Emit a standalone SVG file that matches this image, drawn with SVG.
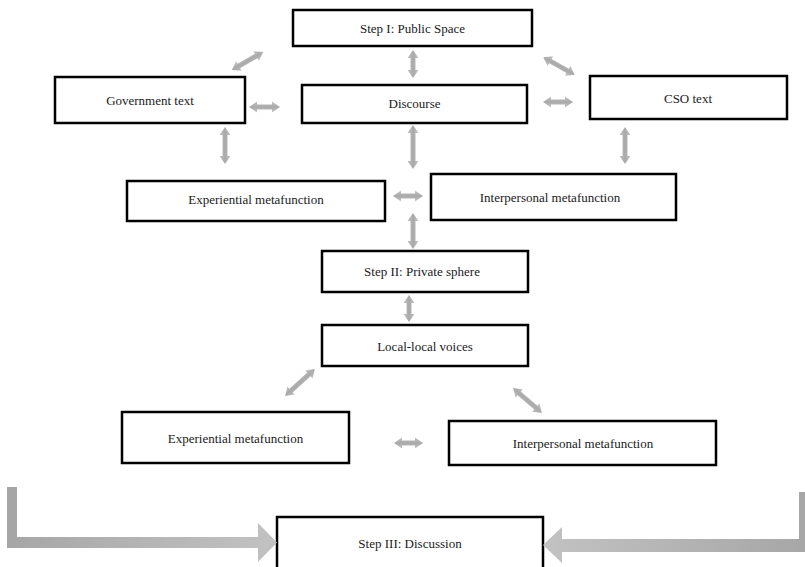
<svg xmlns="http://www.w3.org/2000/svg" width="805" height="567" viewBox="0 0 805 567">
  <style>
    .box { fill: #ffffff; stroke: #000000; stroke-width: 2.5; }
    .lbl { font-family: "Liberation Serif", "Times New Roman", serif; font-size: 13px; fill: #1a1a1a; text-anchor: middle; }
    .dbl { fill: url(#arrowGrad); }
    .flow { stroke: none; }
  </style>
  <defs>
    <linearGradient id="arrowGrad" x1="0" y1="0" x2="0" y2="1">
      <stop offset="0" stop-color="#c4c4c4"/>
      <stop offset="0.5" stop-color="#a9a9a9"/>
      <stop offset="1" stop-color="#c4c4c4"/>
    </linearGradient>
    <linearGradient id="flowLeft" x1="0" y1="0" x2="1" y2="0">
      <stop offset="0" stop-color="#a6a6a6"/>
      <stop offset="1" stop-color="#c2c2c2"/>
    </linearGradient>
    <linearGradient id="flowRight" x1="1" y1="0" x2="0" y2="0">
      <stop offset="0" stop-color="#a6a6a6"/>
      <stop offset="1" stop-color="#c2c2c2"/>
    </linearGradient>
  </defs>

  <!-- nodes -->
  <g id="step1"><rect class="box" x="293" y="10" width="239" height="36"/><text class="lbl" x="412.5" y="33">Step I: Public Space</text></g>
  <g id="gov"><rect class="box" x="55" y="77" width="190" height="46"/><text class="lbl" x="150" y="105">Government text</text></g>
  <g id="discourse"><rect class="box" x="302" y="85" width="225" height="38"/><text class="lbl" x="414.5" y="108">Discourse</text></g>
  <g id="cso"><rect class="box" x="590" y="76" width="197" height="43"/><text class="lbl" x="688" y="103">CSO text</text></g>
  <g id="exp1"><rect class="box" x="127" y="181" width="258" height="40"/><text class="lbl" x="256" y="204">Experiential metafunction</text></g>
  <g id="int1"><rect class="box" x="431" y="174" width="245" height="46"/><text class="lbl" x="550" y="202">Interpersonal metafunction</text></g>
  <g id="step2"><rect class="box" x="322" y="251" width="206" height="41"/><text class="lbl" x="422" y="276">Step II: Private sphere</text></g>
  <g id="local"><rect class="box" x="322" y="325" width="206" height="41"/><text class="lbl" x="425" y="351">Local-local voices</text></g>
  <g id="exp2"><rect class="box" x="122" y="412" width="227" height="51"/><text class="lbl" x="235.5" y="443">Experiential metafunction</text></g>
  <g id="int2"><rect class="box" x="449" y="421" width="267" height="44"/><text class="lbl" x="583" y="448">Interpersonal metafunction</text></g>
  <g id="step3"><rect class="box" x="277" y="517" width="266" height="60"/><text class="lbl" x="410" y="548">Step III: Discussion</text></g>

  <!-- connectors: double-headed block arrows drawn along x, centred on the origin -->
  <g id="connectors">
    <polygon class="dbl" transform="translate(413,64) rotate(90)" points="-14,0 -6,-5.5 -6,-2.5 6,-2.5 6,-5.5 14,0 6,5.5 6,2.5 -6,2.5 -6,5.5"/>
    <polygon class="dbl" transform="translate(247.5,61) rotate(-30)" points="-18,0 -10,-5.5 -10,-2.5 10,-2.5 10,-5.5 18,0 10,5.5 10,2.5 -10,2.5 -10,5.5"/>
    <polygon class="dbl" transform="translate(559,66) rotate(29.4)" points="-18,0 -10,-5.5 -10,-2.5 10,-2.5 10,-5.5 18,0 10,5.5 10,2.5 -10,2.5 -10,5.5"/>
    <polygon class="dbl" transform="translate(264.5,107)" points="-15.5,0 -7.5,-5.5 -7.5,-2.5 7.5,-2.5 7.5,-5.5 15.5,0 7.5,5.5 7.5,2.5 -7.5,2.5 -7.5,5.5"/>
    <polygon class="dbl" transform="translate(558,102)" points="-15,0 -7,-5.5 -7,-2.5 7,-2.5 7,-5.5 15,0 7,5.5 7,2.5 -7,2.5 -7,5.5"/>
    <polygon class="dbl" transform="translate(225,145.5) rotate(90)" points="-18.5,0 -10.5,-5.5 -10.5,-2.5 10.5,-2.5 10.5,-5.5 18.5,0 10.5,5.5 10.5,2.5 -10.5,2.5 -10.5,5.5"/>
    <polygon class="dbl" transform="translate(413,147) rotate(90)" points="-22,0 -14,-5.5 -14,-2.5 14,-2.5 14,-5.5 22,0 14,5.5 14,2.5 -14,2.5 -14,5.5"/>
    <polygon class="dbl" transform="translate(625,145.5) rotate(90)" points="-18.5,0 -10.5,-5.5 -10.5,-2.5 10.5,-2.5 10.5,-5.5 18.5,0 10.5,5.5 10.5,2.5 -10.5,2.5 -10.5,5.5"/>
    <polygon class="dbl" transform="translate(408,196)" points="-15,0 -7,-5.5 -7,-2.5 7,-2.5 7,-5.5 15,0 7,5.5 7,2.5 -7,2.5 -7,5.5"/>
    <polygon class="dbl" transform="translate(413,231) rotate(90)" points="-18,0 -10,-5.5 -10,-2.5 10,-2.5 10,-5.5 18,0 10,5.5 10,2.5 -10,2.5 -10,5.5"/>
    <polygon class="dbl" transform="translate(409,308.5) rotate(90)" points="-13.5,0 -5.5,-5.5 -5.5,-2.5 5.5,-2.5 5.5,-5.5 13.5,0 5.5,5.5 5.5,2.5 -5.5,2.5 -5.5,5.5"/>
    <polygon class="dbl" transform="translate(300,382.5) rotate(-42)" points="-20,0 -12,-5.5 -12,-2.5 12,-2.5 12,-5.5 20,0 12,5.5 12,2.5 -12,2.5 -12,5.5"/>
    <polygon class="dbl" transform="translate(527.5,400.5) rotate(40.8)" points="-19,0 -11,-5.5 -11,-2.5 11,-2.5 11,-5.5 19,0 11,5.5 11,2.5 -11,2.5 -11,5.5"/>
    <polygon class="dbl" transform="translate(408.5,443)" points="-14.5,0 -6.5,-5.5 -6.5,-2.5 6.5,-2.5 6.5,-5.5 14.5,0 6.5,5.5 6.5,2.5 -6.5,2.5 -6.5,5.5"/>
    <!-- elbow arrows feeding Step III -->
    <path class="flow" fill="url(#flowLeft)" d="M7,487 H17 V537 H258 V523 L277,542.5 L258,562 V548 H7 Z"/>
    <path class="flow" fill="url(#flowRight)" d="M810,492 H799 V539 H562 V527 L543,545 L562,563 V552 H810 Z"/>
  </g>
</svg>
